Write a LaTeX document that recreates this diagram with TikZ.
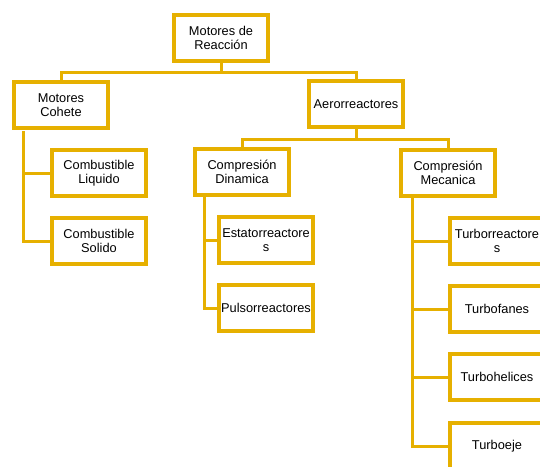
\documentclass[tikz,border=0pt]{standalone}
\usepackage{fontspec}
\setmainfont{Liberation Sans}
\usepackage{tikz}
\usepackage{xcolor}
\definecolor{oro}{RGB}{230,176,0}

\tikzset{
    caja/.style={draw=oro,line width=4pt,fill=white,minimum width=94pt,minimum height=46pt,
        inner sep=1pt,align=center,font=\fontsize{12.8}{13.4}\selectfont},
    conector/.style={draw=oro,line width=3pt}
}

\begin{document}
\begin{tikzpicture}[x=1pt,y=-1pt]
        \clip (0,0) rectangle (540,466);
        \node[caja] (motores) at (221,38) {Motores de\\Reacción};
        \node[caja] (cohete) at (61,105) {Motores\\Cohete};
        \node[caja] (liquido) at (99,173) {Combustible\\Liquido};
        \node[caja] (solido) at (99,241) {Combustible\\Solido};
        \node[caja] (aero) at (356,104) {Aerorreactores};
        \node[caja] (dinamica) at (242,172) {Compresión\\Dinamica};
        \node[caja] (estato) at (266,240) {Estatorreactore\\s};
        \node[caja] (pulso) at (266,308) {Pulsorreactores};
        \node[caja] (mecanica) at (448,173) {Compresión\\Mecanica};
        \node[caja] (turborr) at (497,241) {Turborreactore\\s};
        \node[caja] (turbofan) at (497,309) {Turbofanes};
        \node[caja] (turbohel) at (497,377) {Turbohelices};
        \node[caja] (turboeje) at (497,446) {Turboeje};
        \coordinate (tcohete) at (23,131);
        \coordinate (tdinamica) at (204,197);
        \coordinate (tmecanica) at (412,198);
        \draw[conector] (motores.south) -- ++(0,9) -| (cohete.north);
        \draw[conector] (motores.south) -- ++(0,9) -| (aero.north);
        \draw[conector] (aero.south) -- ++(0,10) -| (dinamica.north);
        \draw[conector] (aero.south) -- ++(0,10) -| (mecanica.north);
        \draw[conector] (tcohete) |- (liquido.west);
        \draw[conector] (tcohete) |- (solido.west);
        \draw[conector] (tdinamica) |- (estato.west);
        \draw[conector] (tdinamica) |- (pulso.west);
        \draw[conector] (tmecanica) |- (turborr.west);
        \draw[conector] (tmecanica) |- (turbofan.west);
        \draw[conector] (tmecanica) |- (turbohel.west);
        \draw[conector] (tmecanica) |- (turboeje.west);
    \end{tikzpicture}
\end{document}
